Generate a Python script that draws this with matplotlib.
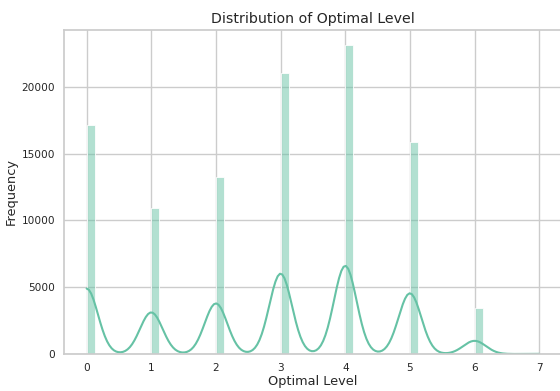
import numpy as np
import matplotlib
matplotlib.use("Agg")
import matplotlib.pyplot as plt
import seaborn as sns

levels = [0, 1, 2, 3, 4, 5, 6, 7]
counts = [17150, 10900, 13250, 21050, 23100, 15900, 3450, 40]

data = np.repeat(levels, counts)

sns.set_theme(style="whitegrid")
plt.rcParams['font.family'] = ['DejaVu Sans']

fig = plt.figure(figsize=(5.6, 3.91), dpi=100)
ax = fig.add_axes([0.1143, 0.0946, 0.889, 0.829])
sns.histplot(data, kde=True, color="#66c2a5", ax=ax)
ax.set_title("Distribution of Optimal Level", fontsize=10.2, pad=5)
ax.set_xlabel("Optimal Level", fontsize=9.3)
ax.set_ylabel("Frequency", fontsize=9.3)
ax.tick_params(axis="both", labelsize=7.6, length=0, pad=6.5)
ax.xaxis.set_label_coords(0.5, -0.066)
ax.yaxis.set_label_coords(-0.093, 0.5)

fig.savefig("out.png", dpi=100)
